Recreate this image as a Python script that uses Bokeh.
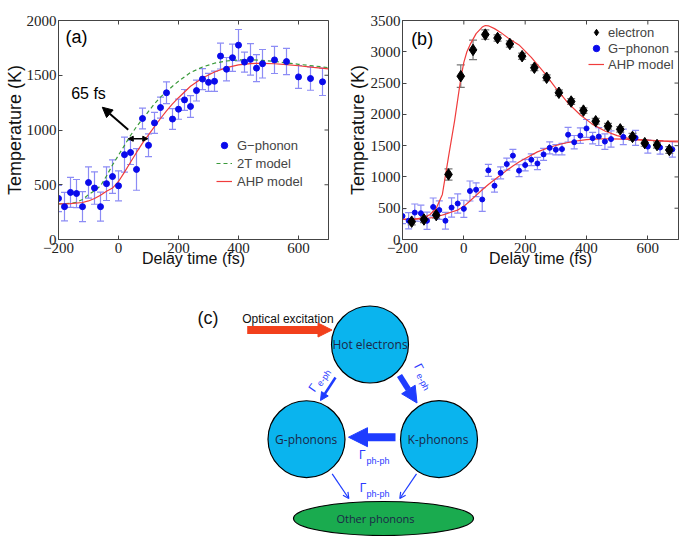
from bokeh.plotting import figure
from bokeh.layouts import column, row
from bokeh.models import (Range1d, FixedTicker, Whisker, ColumnDataSource,
                          Legend, LegendItem, Arrow, NormalHead, OpenHead, TeeHead)
from bokeh.embed import file_html
from bokeh.resources import INLINE
from bokeh.core.properties import value

# ---------------- data ----------------
ph_t = [-200, -180, -160, -140, -120, -100, -80, -60, -40, -20, 0, 20, 40, 60, 80, 100, 120, 140,
        160, 180, 200, 220, 240, 260, 280, 300, 320, 340, 360, 380, 400, 420, 440, 460, 480,
        520, 560, 600, 640, 680]
ph_T = [375, 300, 430, 420, 300, 520, 470, 300, 510, 575, 490, 775, 795, 640, 1105, 860, 1065, 1205,
        1340, 1100, 1190, 1275, 1215, 1360, 1465, 1435, 1445, 1675, 1555, 1660, 1775, 1620, 1645, 1565, 1605,
        1640, 1625, 1485, 1470, 1440]
ph_err = [120, 130, 137, 128, 137, 143, 148, 133, 154, 153, 137, 160, 110, 190, 95, 104, 96, 96,
          100, 95, 92, 95, 99, 95, 96, 82, 92, 118, 107, 125, 143, 92, 143, 124, 130,
          124, 120, 104, 107, 125]

el_t = [-170, -130, -90, -50, -10, 30, 70, 110, 150, 190, 230, 270, 310, 350, 390, 430, 470, 510,
        550, 590, 630, 670]
el_T = [285, 320, 390, 1040, 2610, 3030, 3275, 3220, 3125, 2930, 2745, 2585, 2345, 2205, 2060, 1890,
        1810, 1760, 1640, 1540, 1510, 1430]
el_err = [50, 50, 50, 90, 180, 155, 75, 50, 50, 50, 45, 45, 45, 45, 45, 45, 45, 45, 55, 50, 50, 55]

ahp_ph_t = [-200, -160, -120, -100, -80, -60, -40, -20, 0, 20, 40, 60, 80, 100, 120, 140, 160, 180,
            200, 240, 280, 320, 360, 400, 440, 480, 520, 560, 600, 650, 700]
ahp_ph_T = [325, 327, 338, 352, 375, 405, 440, 470, 530, 615, 705, 795, 880, 955, 1030, 1105, 1175, 1238,
            1295, 1400, 1475, 1530, 1570, 1595, 1607, 1609, 1605, 1597, 1587, 1572, 1558]

tt_t = [-200, -160, -140, -120, -100, -80, -60, -40, -20, 0, 20, 40, 60, 80, 100, 120, 140, 160, 180,
        200, 240, 280, 320, 360, 400, 440, 480, 520, 560, 600, 650, 700]
tt_T = [325, 330, 340, 365, 410, 445, 490, 580, 680, 770, 860, 950, 1030, 1100, 1170, 1240, 1300, 1350, 1400,
        1445, 1525, 1575, 1610, 1630, 1640, 1641, 1636, 1626, 1613, 1600, 1585, 1570]

ahp_el_t = [-200, -160, -130, -110, -90, -70, -50, -30, -10, 0, 10, 20, 40, 60, 70, 80, 100, 120, 150,
            180, 220, 260, 300, 340, 380, 420, 460, 500, 550, 600, 650, 700]
ahp_el_T = [320, 325, 350, 400, 500, 720, 1320, 1900, 2570, 2830, 3000, 3110, 3290, 3395, 3420, 3415, 3370,
            3310, 3200, 3110, 2910, 2680, 2420, 2180, 1990, 1840, 1735, 1660, 1600, 1585, 1578, 1572]

x_ticks = [-200, 0, 200, 400, 600]
ya_ticks = [0, 500, 1000, 1500, 2000]
yb_ticks = [0, 500, 1000, 1500, 2000, 2500, 3000, 3500]

# panel (a) annotations (data units)
shift_arrow = [32.5, 1002, -54, 1208]        # x0, y0, x1, y1
shift_bar = [32.5, 97.5, 920]                # x0, x1, y
shift_label = ["65 fs", -100, 1333]

# diagram (c): page-pixel coordinates
node_x = [369.5, 306.0, 438.5]
node_y = [344.0, 438.7, 438.7]
node_labels = ["Hot electrons", "G-phonons", "K-phonons"]
node_label_x = [369.5, 305.7, 437.5]
node_r = 38.5
other_xy = [383.0, 518.0, 180.0, 34.0]
other_label = ["Other phonons", 375.0, 518.3]
# arrows: x0, y0, x1, y1, width, head size, color
arrows = [
    (246.7, 329.5, 331.5, 329.5, 8, 14, "#f2401c"),
    (335.0, 377.0, 320.0, 400.0, 2.5, 8, "#1e3cff"),
    (399.0, 375.0, 416.5, 402.5, 6, 16, "#1e3cff"),
    (395.0, 436.7, 348.0, 436.7, 8, 19, "#1e3cff"),
]
thin_arrows = [
    (331.7, 473.3, 348.3, 498.0),
    (416.0, 473.3, 399.3, 498.0),
]
gam_x = [312.7, 418.3, 361.7, 362.5]
gam_y = [387.3, 366.7, 454.0, 487.3]
gam_ang = [55, -62, 0, 0]
sub_x = [323.5, 422.4, 377.5, 377.5]
sub_y = [377.5, 381.4, 460.5, 493.0]
sub_txt = ["e-ph", "e-ph", "ph-ph", "ph-ph"]

BLUE = "#0a0aeb"
EBLUE = "#8c8cf5"
RED = "#f03c3c"
GREEN = "#3a9a3a"
AX = "#444444"
MINUS = "\u2212"


def panel(ymax, yticks, left, right, fw):
    p = figure(frame_width=fw, frame_height=219, x_range=Range1d(-200, 700), y_range=Range1d(0, ymax),
               toolbar_location=None, output_backend="svg",
               min_border_left=left, min_border_right=right, min_border_top=20, min_border_bottom=41)
    p.grid.visible = False
    p.outline_line_color = AX
    p.outline_line_width = 1
    p.xaxis.ticker = FixedTicker(ticks=x_ticks)
    p.yaxis.ticker = FixedTicker(ticks=yticks)
    p.xaxis.major_label_overrides = {t: (MINUS + str(-t) if t < 0 else str(t)) for t in x_ticks}
    for ax in (p.xaxis[0], p.yaxis[0]):
        ax.major_tick_in = 4
        ax.major_tick_out = 0
        ax.minor_tick_line_color = None
        ax.axis_line_color = AX
        ax.major_tick_line_color = AX
        ax.major_label_text_font = "Liberation Serif"
        ax.major_label_text_font_size = "15px"
        ax.major_label_text_color = "#222222"
        ax.axis_label_text_font = "Liberation Sans"
        ax.axis_label_text_font_style = "normal"
        ax.axis_label_text_color = "#111111"
    p.xaxis.axis_label = "Delay time (fs)"
    p.xaxis.axis_label_text_font_size = "16px"
    p.xaxis.major_label_standoff = 3
    p.xaxis.axis_label_standoff = -6
    p.yaxis.axis_label = "Temperature (K)"
    p.yaxis.axis_label_text_font_size = "18px"
    p.yaxis.major_label_standoff = 2
    # inward ticks on the top and right edges of the box (clipped to the frame)
    p.scatter(x=x_ticks, y=[ymax] * len(x_ticks), marker="dash", size=8, angle=1.5708,
              line_color=AX, line_width=1)
    p.scatter(x=[700] * len(yticks), y=yticks, marker="dash", size=8, line_color=AX, line_width=1)
    return p


# ---------------- panel (a) ----------------
pa = panel(2000, ya_ticks, 58, 10, 270)
pa.yaxis[0].axis_label_standoff = -1
src_ph = ColumnDataSource(dict(t=ph_t, T=ph_T,
                               up=[v + e for v, e in zip(ph_T, ph_err)],
                               lo=[v - e for v, e in zip(ph_T, ph_err)]))
pa.add_layout(Whisker(base="t", upper="up", lower="lo", source=src_ph, line_color=EBLUE, line_width=1.2,
                      upper_head=TeeHead(size=7, line_color=EBLUE, line_width=1.2),
                      lower_head=TeeHead(size=7, line_color=EBLUE, line_width=1.2)))
r_tt = pa.line(tt_t, tt_T, line_color=GREEN, line_width=1.2, line_dash="4 3")
r_ahp = pa.line(ahp_ph_t, ahp_ph_T, line_color=RED, line_width=1.2)
r_ph = pa.scatter("t", "T", source=src_ph, size=6, marker="circle", fill_color=BLUE, line_color=BLUE)
pa.add_layout(Arrow(x_start=shift_arrow[0], y_start=shift_arrow[1], x_end=shift_arrow[2], y_end=shift_arrow[3],
                    line_width=2, line_color="black",
                    end=NormalHead(size=10, fill_color="black", line_color="black")))
pa.add_layout(Arrow(x_start=shift_bar[0], y_start=shift_bar[2], x_end=shift_bar[1], y_end=shift_bar[2],
                    line_width=1.5, line_color="black",
                    start=NormalHead(size=5, fill_color="black", line_color="black"),
                    end=NormalHead(size=5, fill_color="black", line_color="black")))
pa.text(x=[shift_label[1]], y=[shift_label[2]], text=[shift_label[0]], text_font=value("Liberation Sans"),
        text_font_size="16px", text_align="center", text_baseline="middle", text_color="black")
pa.text(x=[-140], y=[1850], text=["(a)"], text_font=value("Liberation Sans"), text_font_size="18px",
        text_align="center", text_baseline="middle", text_color="black")
leg_a = Legend(items=[LegendItem(label="G\u2212phonon", renderers=[r_ph]),
                      LegendItem(label="2T model", renderers=[r_tt]),
                      LegendItem(label="AHP model", renderers=[r_ahp])],
               location=(158, 49), padding=0, margin=0, spacing=0, glyph_width=16, glyph_height=18,
               label_height=18, label_standoff=5, label_text_font="Liberation Sans", label_text_font_size="13px",
               border_line_alpha=0, background_fill_alpha=0)
pa.add_layout(leg_a)

# ---------------- panel (b) ----------------
pb = panel(3500, yb_ticks, 64, 7, 276)
pb.yaxis[0].axis_label_standoff = 0
src_el = ColumnDataSource(dict(t=el_t, T=el_T,
                               up=[v + e for v, e in zip(el_T, el_err)],
                               lo=[v - e for v, e in zip(el_T, el_err)]))
src_ph2 = ColumnDataSource(dict(t=ph_t, T=ph_T,
                                up=[v + e for v, e in zip(ph_T, ph_err)],
                                lo=[v - e for v, e in zip(ph_T, ph_err)]))
pb.add_layout(Whisker(base="t", upper="up", lower="lo", source=src_ph2, line_color=EBLUE, line_width=1.2,
                      upper_head=TeeHead(size=7, line_color=EBLUE, line_width=1.2),
                      lower_head=TeeHead(size=7, line_color=EBLUE, line_width=1.2)))
pb.add_layout(Whisker(base="t", upper="up", lower="lo", source=src_el, line_color="#777777", line_width=1.2,
                      upper_head=TeeHead(size=8, line_color="#777777", line_width=1.2),
                      lower_head=TeeHead(size=8, line_color="#777777", line_width=1.2)))
r_ahp_b = pb.line(ahp_ph_t, ahp_ph_T, line_color=RED, line_width=1.2)
pb.line(ahp_el_t, ahp_el_T, line_color=RED, line_width=1.2)
r_ph_b = pb.scatter("t", "T", source=src_ph2, size=5, marker="circle", fill_color=BLUE, line_color=BLUE)
r_el = pb.scatter("t", "T", source=src_el, size=11.5, marker="diamond", fill_color="black", line_color="black")
pb.text(x=[-136], y=[3210], text=["(b)"], text_font=value("Liberation Sans"), text_font_size="18px",
        text_align="center", text_baseline="middle", text_color="black")
leg_b = Legend(items=[LegendItem(label="electron", renderers=[r_el]),
                      LegendItem(label="G\u2212phonon", renderers=[r_ph_b]),
                      LegendItem(label="AHP model", renderers=[r_ahp_b])],
               location=(186, 167), padding=0, margin=0, spacing=0, glyph_width=16, glyph_height=16,
               label_height=16, label_standoff=4, label_text_font="Liberation Sans", label_text_font_size="13px",
               border_line_alpha=0, background_fill_alpha=0)
pb.add_layout(leg_b)

# ---------------- panel (c) ----------------
pc = figure(width=685, height=256, x_range=Range1d(0, 685), y_range=Range1d(536, 280),
            toolbar_location=None, output_backend="svg", min_border=0)
pc.axis.visible = False
pc.grid.visible = False
pc.outline_line_color = None

pc.ellipse(x=[other_xy[0]], y=[other_xy[1]], width=other_xy[2], height=other_xy[3],
           fill_color="#1aab4f", line_color="black", line_width=1.2)
pc.circle(x=node_x, y=node_y, radius=node_r, fill_color="#0ab4ee", line_color="black", line_width=1.2)

for x0, y0, x1, y1, w, hs, c in arrows:
    pc.add_layout(Arrow(x_start=x0, y_start=y0, x_end=x1, y_end=y1, line_width=w, line_color=c,
                        end=NormalHead(size=hs, fill_color=c, line_color=c, line_width=1)))
for x0, y0, x1, y1 in thin_arrows:
    pc.add_layout(Arrow(x_start=x0, y_start=y0, x_end=x1, y_end=y1, line_width=1.2, line_color="#1e3cff",
                        end=OpenHead(size=6, line_color="#1e3cff", line_width=1.2)))

pc.text(x=node_label_x, y=node_y, text=node_labels, text_font=value("Open Sans"), text_font_size="12px",
        text_align="center", text_baseline="middle", text_color="#1b2747")
pc.text(x=[other_label[1]], y=[other_label[2]], text=[other_label[0]], text_font=value("Open Sans"),
        text_font_size="11px", text_align="center", text_baseline="middle", text_color="#1b2747")
pc.text(x=[241.7], y=[318.3], text=["Optical excitation"], text_font=value("Liberation Sans"),
        text_font_size="12px", text_align="left", text_baseline="middle", text_color="#111111")
pc.text(x=[207.5], y=[317], text=["(c)"], text_font=value("Liberation Sans"), text_font_size="18px",
        text_align="center", text_baseline="middle", text_color="#111111")
pc.text(x=gam_x, y=gam_y, text=["\u0393"] * 4, angle=gam_ang, angle_units="deg",
        text_font=value("Liberation Sans"), text_font_size="12px", text_align="center",
        text_baseline="middle", text_color="#2b3bff")
pc.text(x=sub_x, y=sub_y, text=sub_txt, angle=gam_ang, angle_units="deg",
        text_font=value("Liberation Sans"), text_font_size="9px", text_align="center",
        text_baseline="middle", text_color="#2b3bff")

layout = column(row(pa, pb), pc)
open("out.html", "w").write(file_html(layout, INLINE))
